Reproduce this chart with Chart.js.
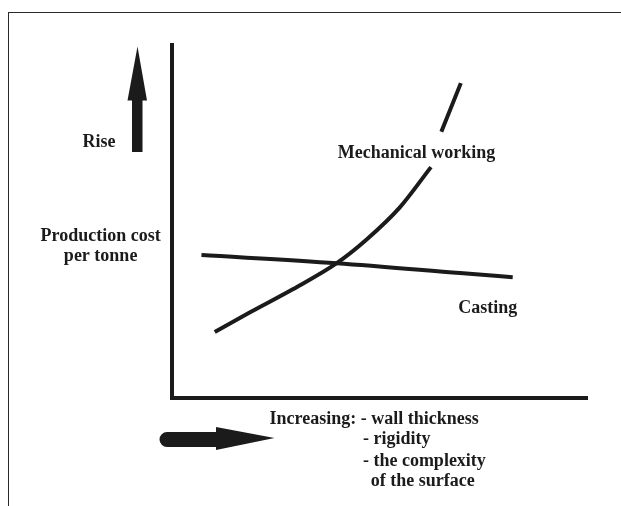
<!DOCTYPE html>
<html>
<head>
<meta charset="utf-8">
<script src="https://cdn.jsdelivr.net/npm/chart.js@4"></script>
<style>
  html, body { margin: 0; padding: 0; background: #fff; }
  #wrap { position: relative; width: 621px; height: 506px; }
  #frame { position: absolute; left: 8px; top: 12px; right: -10px; bottom: -10px;
           border-left: 1.5px solid #2a2a2a; border-top: 1.5px solid #2a2a2a; }
  canvas { position: absolute; left: 0; top: 0; }
</style>
</head>
<body>
<div id="wrap">
  <div id="frame"></div>
  <canvas id="chart" width="621" height="506"></canvas>
</div>
<script>
// curve values (x: increasing thickness/rigidity, y: cost)
const castingX = [7.1, 39.7, 69.4, 82.1];
const castingY = [40.5, 38.2, 35.4, 34.2];

const mechX = [10.3, 18.7, 29.1, 39.7, 46.9, 54.9, 62.4, 63.6, 64.9, 69.6];
const mechY = [18.7, 24.2, 30.8, 38.2, 44.9, 54.0, 65.4, null, 75.4, 89.2];

// text labels and where they sit (data units)
const labels = [
  { text: "Rise", x: -17.6, y: 71.1, align: "center" },
  { text: "Production cost", x: -17.2, y: 44.6, align: "center" },
  { text: "per tonne", x: -17.2, y: 38.7, align: "center" },
  { text: "Mechanical working", x: 58.9, y: 68.0, align: "center" },
  { text: "Casting", x: 76.1, y: 24.2, align: "center" },
  { text: "Increasing: - wall thickness", x: 23.5, y: -7.4, align: "left" },
  { text: "- rigidity", x: 46.0, y: -13.1, align: "left" },
  { text: "- the complexity", x: 46.0, y: -19.3, align: "left" },
  { text: "of the surface", x: 47.9, y: -24.8, align: "left" },
];

const ink = '#1b1b1b';

const toPoints = (xs, ys) => xs.map((x, i) => ({ x: x, y: ys[i] }));

const sketchPlugin = {
  id: 'sketch',
  afterDraw(chart) {
    const ctx = chart.ctx;
    const xs = chart.scales.x, ys = chart.scales.y;
    const a = chart.chartArea;
    ctx.save();
    ctx.fillStyle = ink;

    // up arrow ("Rise")
    const ux = a.left - 34.5;
    ctx.beginPath();
    ctx.moveTo(ux, a.top + 1.5);
    ctx.lineTo(ux + 9.5, a.top + 55.5);
    ctx.lineTo(ux + 5, a.top + 55.5);
    ctx.lineTo(ux + 5, a.top + 107);
    ctx.lineTo(ux - 5.5, a.top + 107);
    ctx.lineTo(ux - 5.5, a.top + 55.5);
    ctx.lineTo(ux - 10, a.top + 55.5);
    ctx.closePath();
    ctx.fill();

    // right arrow under the axis
    const ry = a.bottom + 41;
    ctx.beginPath();
    ctx.moveTo(a.left + 102.5, ry - 1);
    ctx.lineTo(a.left + 44, ry - 12);
    ctx.lineTo(a.left + 44, ry - 7);
    ctx.lineTo(a.left - 5, ry - 7);
    ctx.arc(a.left - 5, ry + 0.5, 7.5, -Math.PI / 2, Math.PI / 2, true);
    ctx.lineTo(a.left + 44, ry + 8);
    ctx.lineTo(a.left + 44, ry + 11);
    ctx.closePath();
    ctx.fill();

    // texts
    ctx.font = 'bold 18px "Liberation Serif", "Times New Roman", serif';
    ctx.textBaseline = 'alphabetic';
    labels.forEach(l => {
      ctx.textAlign = l.align;
      ctx.fillText(l.text, xs.getPixelForValue(l.x), ys.getPixelForValue(l.y));
    });
    ctx.restore();
  }
};

const hiddenAxis = {
  type: 'linear',
  min: 0,
  max: 100,
  grid: { display: false },
  ticks: { display: false },
  border: { display: true, color: ink, width: 4 },
  afterFit(scale) { scale.width = 0; scale.height = 0; },
};

new Chart(document.getElementById('chart').getContext('2d'), {
  type: 'line',
  data: {
    datasets: [
      {
        label: 'Casting',
        data: toPoints(castingX, castingY),
        borderColor: ink,
        borderWidth: 4,
        pointRadius: 0,
        cubicInterpolationMode: 'monotone',
        clip: false,
      },
      {
        label: 'Mechanical working',
        data: toPoints(mechX, mechY),
        borderColor: ink,
        borderWidth: 4,
        pointRadius: 0,
        cubicInterpolationMode: 'monotone',
        spanGaps: false,
        clip: false,
      },
    ],
  },
  options: {
    responsive: false,
    animation: false,
    layout: { padding: { left: 172, top: 45, right: 34, bottom: 108 } },
    plugins: {
      legend: { display: false },
      tooltip: { enabled: false },
    },
    scales: {
      x: Object.assign({}, hiddenAxis, { position: 'bottom' }),
      y: Object.assign({}, hiddenAxis, { position: 'left' }),
    },
  },
  plugins: [sketchPlugin],
});
</script>
</body>
</html>
